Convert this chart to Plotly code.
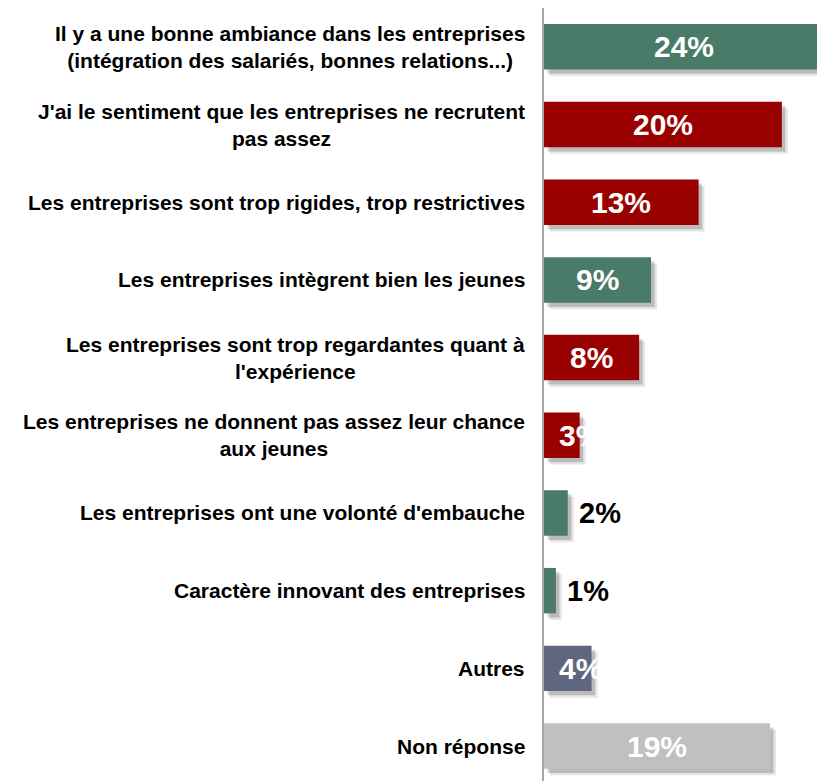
import plotly.graph_objects as go

categories = [
    "Il y a une bonne ambiance dans les entreprises<br>(intégration des salariés, bonnes relations...)",
    "J'ai le sentiment que les entreprises ne recrutent<br>pas assez",
    "Les entreprises sont trop rigides, trop restrictives",
    "Les entreprises intègrent bien les jeunes",
    "Les entreprises sont trop regardantes quant à<br>l'expérience",
    "Les entreprises ne donnent pas assez leur chance<br>aux jeunes",
    "Les entreprises ont une volonté d'embauche",
    "Caractère innovant des entreprises",
    "Autres",
    "Non réponse",
]
values = [24, 20, 13, 9, 8, 3, 2, 1, 4, 19]
value_labels = ["24%", "20%", "13%", "9%", "8%", "3%", "2%", "1%", "4%", "19%"]
GREEN, RED, SLATE, GREY = "#4A7A68", "#990000", "#5F667F", "#C0C0C0"
colors = [GREEN, RED, RED, GREEN, RED, RED, GREEN, GREEN, SLATE, GREY]

idx = list(range(len(categories)))
W = 0.585
FONT = "Liberation Sans, Arial, sans-serif"

fig = go.Figure()
# soft drop shadows
for alpha, dx, dy in [(0.10, 0.5, 0.085), (0.18, 0.3, 0.055)]:
    fig.add_trace(go.Bar(
        y=idx, x=values, base=dx, orientation="h", width=W,
        offset=-W / 2 + dy, marker=dict(color=f"rgba(0,0,0,{alpha})", line=dict(width=0)),
        hoverinfo="skip", showlegend=False,
    ))
fig.add_trace(go.Bar(
    y=idx, x=values, orientation="h", width=W, offset=-W / 2,
    marker=dict(color=colors, line=dict(width=0)), showlegend=False,
))

annotations = []
for i, (cat, v, lab) in enumerate(zip(categories, values, value_labels)):
    annotations.append(dict(
        x=0, xref="paper", y=i, yref="y", text=cat, showarrow=False,
        xanchor="right", yanchor="middle", align="center", xshift=-17,
        font=dict(family=FONT, size=21, color="#000000", weight="bold"),
    ))
    if v >= 3:
        annotations.append(dict(
            x=max(min(v, 23.6) / 2, 3.05), y=i, xref="x", yref="y", text=lab, showarrow=False,
            xanchor="center", yanchor="middle",
            font=dict(family=FONT, size=30, color="#FFFFFF", weight="bold"),
        ))
    else:
        annotations.append(dict(
            x=v, y=i, xref="x", yref="y", text=lab, showarrow=False,
            xanchor="left", yanchor="middle", xshift=9,
            font=dict(family=FONT, size=29, color="#000000", weight="bold"),
        ))

fig.update_layout(
    width=825, height=773,
    margin=dict(l=536, r=0, t=0, b=0),
    paper_bgcolor="white", plot_bgcolor="white",
    barmode="overlay",
    xaxis=dict(range=[0, 24.3], visible=False, fixedrange=True),
    yaxis=dict(range=[9.45, -0.5], showticklabels=False, showgrid=False,
               zeroline=False, showline=True, linecolor="#A6A6A6", linewidth=1.5,
               ticks=""),
    annotations=annotations,
)

fig.write_html("out.html")
